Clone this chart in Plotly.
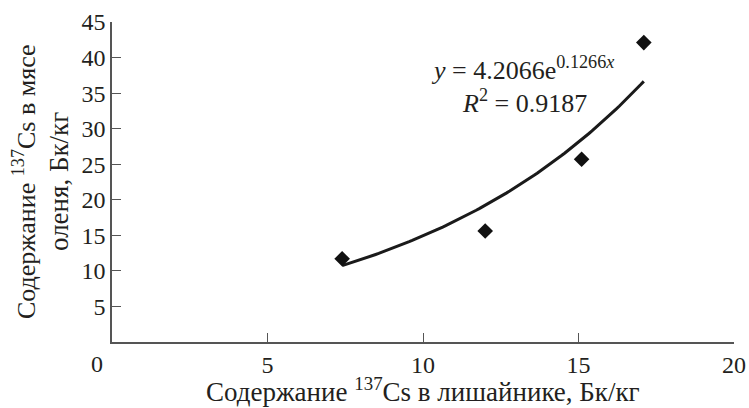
import numpy as np
import plotly.graph_objects as go

# Data
lichen_cs = [7.4, 12.0, 15.1, 17.1]      # x: Cs-137 in lichen, Bq/kg
meat_cs = [11.7, 15.6, 25.7, 42.1]       # y: Cs-137 in reindeer meat, Bq/kg
fit_a = 4.2066
fit_b = 0.1266
r2 = 0.9187
x_ticks = [5, 10, 15, 20]
y_ticks = [5, 10, 15, 20, 25, 30, 35, 40, 45]

xf = np.linspace(min(lichen_cs), max(lichen_cs), 100)
yf = fit_a * np.exp(fit_b * xf)

FONT = "Liberation Serif"
TXT = "#231f20"
fig = go.Figure()
fig.add_trace(go.Scatter(x=xf, y=yf, mode="lines",
                         line=dict(color="#1a1a1a", width=3), hoverinfo="skip"))
fig.add_trace(go.Scatter(x=lichen_cs, y=meat_cs, mode="markers",
                         marker=dict(symbol="diamond", size=12, color="#111111")))

fig.update_layout(
    width=749, height=408,
    margin=dict(l=112, r=15, t=22, b=66),
    plot_bgcolor="white", paper_bgcolor="white",
    showlegend=False,
    font=dict(family=FONT, size=24, color=TXT),
    xaxis=dict(range=[0, 20], tickvals=x_ticks, ticks="inside", ticklen=9,
               tickcolor="#555555", showline=True, linecolor="#555555", linewidth=1.5,
               showgrid=False, zeroline=False, automargin=False,
               tickfont=dict(family=FONT, size=24, color=TXT)),
    yaxis=dict(range=[0, 45], tickvals=y_ticks, ticks="inside", ticklen=9,
               tickcolor="#555555", showline=True, linecolor="#555555", linewidth=1.5,
               showgrid=False, zeroline=False, automargin=False,
               tickfont=dict(family=FONT, size=24, color=TXT)),
)

# x-axis "0" label (set slightly left of the origin as in the reference)
fig.add_annotation(x=0, y=0, xref="x", yref="paper", text="0", showarrow=False,
                   xanchor="center", yanchor="middle",
                   xshift=-15, yshift=-22, font=dict(family=FONT, size=24, color=TXT))
# axis titles
fig.add_annotation(x=0.5, y=0, xref="paper", yref="paper", xanchor="center", yanchor="middle",
                   text="Содержание <sup>137</sup>Cs в лишайнике, Бк/кг",
                   showarrow=False, yshift=-48, font=dict(family=FONT, size=27, color=TXT))
fig.add_annotation(x=0, y=0.5, xref="paper", yref="paper", textangle=-90,
                   xanchor="center", yanchor="middle",
                   text="Содержание <sup>137</sup>Cs в мясе",
                   showarrow=False, xshift=-88, font=dict(family=FONT, size=26, color=TXT))
fig.add_annotation(x=0, y=0.5, xref="paper", yref="paper", textangle=-90,
                   xanchor="center", yanchor="middle",
                   text="оленя, Бк/кг",
                   showarrow=False, xshift=-53, font=dict(family=FONT, size=27, color=TXT))
# trendline equation
fig.add_annotation(x=13.2, y=38.4, xref="x", yref="y",
                   text="<i>y</i> = 4.2066e<sup>0.1266<i>x</i></sup>",
                   showarrow=False, font=dict(family=FONT, size=26, color=TXT))
fig.add_annotation(x=13.25, y=33.8, xref="x", yref="y",
                   text=f"<i>R</i><sup>2</sup> = {r2}",
                   showarrow=False, font=dict(family=FONT, size=26, color=TXT))

fig.write_html("out.html", post_script="document.body.style.margin='0';",
               config={"displayModeBar": False})
